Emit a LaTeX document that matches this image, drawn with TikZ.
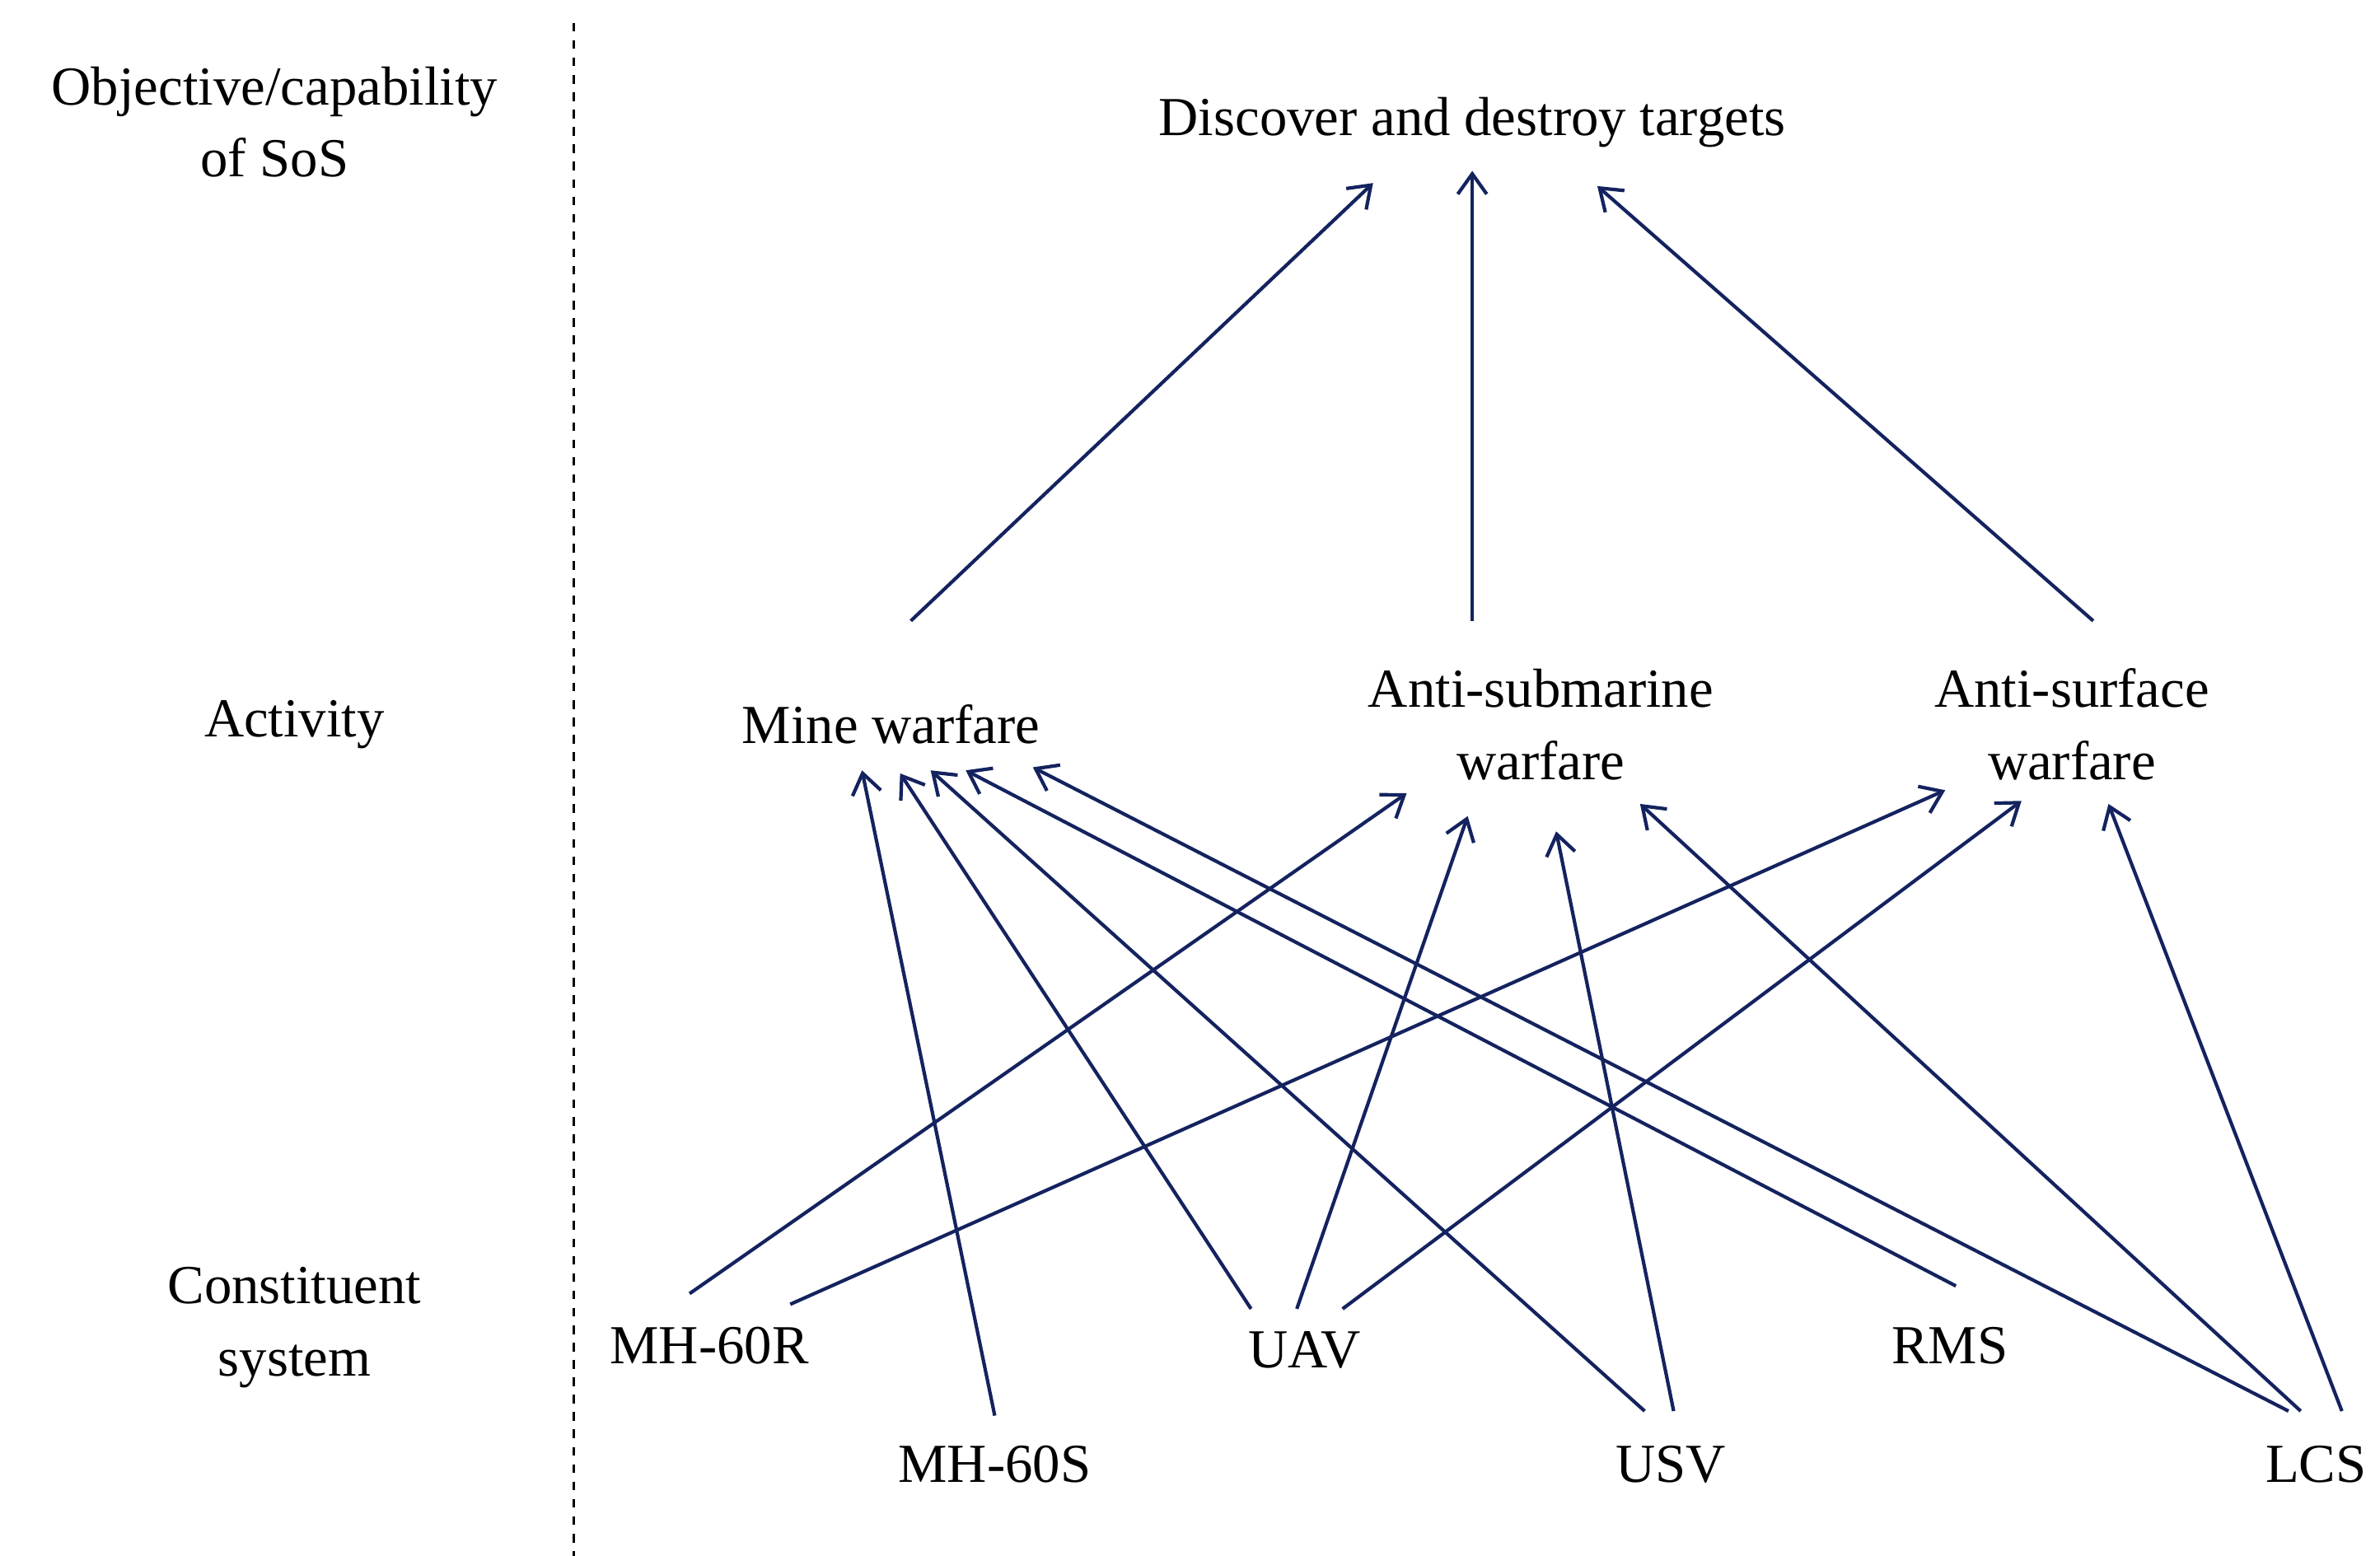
\documentclass[tikz,border=0pt]{standalone}
\usepackage{fontspec}
\setmainfont{Liberation Serif}
\usetikzlibrary{arrows.meta}
\definecolor{navy}{HTML}{14235F}
\begin{document}
\begin{tikzpicture}[x=0.01852cm,y=-0.01852cm,
  lab/.style={font=\fontsize{19}{25}\selectfont,align=center,inner sep=0},
  ar/.style={draw=navy,line width=1.2pt,-{Straight Barb[length=7pt,width=10pt]}}]
\useasboundingbox (0,0) rectangle (1560,1019.5);
\draw[dashed,line width=0.9pt] (376,15) -- (376,1020);
\node[lab] (L1) at (180,80) {Objective/capability\\of SoS};
\node[lab] (L2) at (193,475) {Activity};
\node[lab] (L3) at (193,870) {Constituent\\system};
\node[lab] (T) at (965,80) {Discover and destroy targets};
\node[lab] (MW) at (584,475) {Mine warfare};
\node[lab] (ASW) at (1010,475) {Anti-submarine\\warfare};
\node[lab] (ASU) at (1358,475) {Anti-surface\\warfare};
\node[lab] (R) at (465,882) {MH-60R};
\node[lab] (UAV) at (855,885) {UAV};
\node[lab] (RMS) at (1278,882) {RMS};
\node[lab] (S) at (652,960) {MH-60S};
\node[lab] (USV) at (1095,960) {USV};
\node[lab] (LCS) at (1518,960) {LCS};
% endpoints
\coordinate (t1) at (900,120); \coordinate (t2) at (965,112); \coordinate (t3) at (1047,122);
\coordinate (m0) at (597,407); \coordinate (a0) at (965,407); \coordinate (s0) at (1372,407);
\draw[ar] (m0) -- (t1);
\draw[ar] (a0) -- (t2);
\draw[ar] (s0) -- (t3);
\coordinate (r1) at (452,848); \coordinate (ra) at (922,520);
\coordinate (r2) at (518,855); \coordinate (rs) at (1275,518);
\coordinate (s1) at (652,928); \coordinate (sm) at (565,505);
\coordinate (u1) at (820,858); \coordinate (um) at (590,507);
\coordinate (u2) at (850,858); \coordinate (ua) at (962,535);
\coordinate (u3) at (880,858); \coordinate (us) at (1325,525);
\coordinate (v1) at (1078,925); \coordinate (vm) at (610,505);
\coordinate (v2) at (1097,925); \coordinate (va) at (1020,545);
\coordinate (q1) at (1282,843); \coordinate (qm) at (633,505);
\coordinate (l1) at (1500,925); \coordinate (lm) at (677,503);
\coordinate (l2) at (1508,925); \coordinate (la) at (1075,527);
\coordinate (l3) at (1535,925); \coordinate (ls) at (1382,527);
\draw[ar] (r1) -- (ra);
\draw[ar] (r2) -- (rs);
\draw[ar] (s1) -- (sm);
\draw[ar] (u1) -- (um);
\draw[ar] (u2) -- (ua);
\draw[ar] (u3) -- (us);
\draw[ar] (v1) -- (vm);
\draw[ar] (v2) -- (va);
\draw[ar] (q1) -- (qm);
\draw[ar] (l1) -- (lm);
\draw[ar] (l2) -- (la);
\draw[ar] (l3) -- (ls);
\end{tikzpicture}
\end{document}
